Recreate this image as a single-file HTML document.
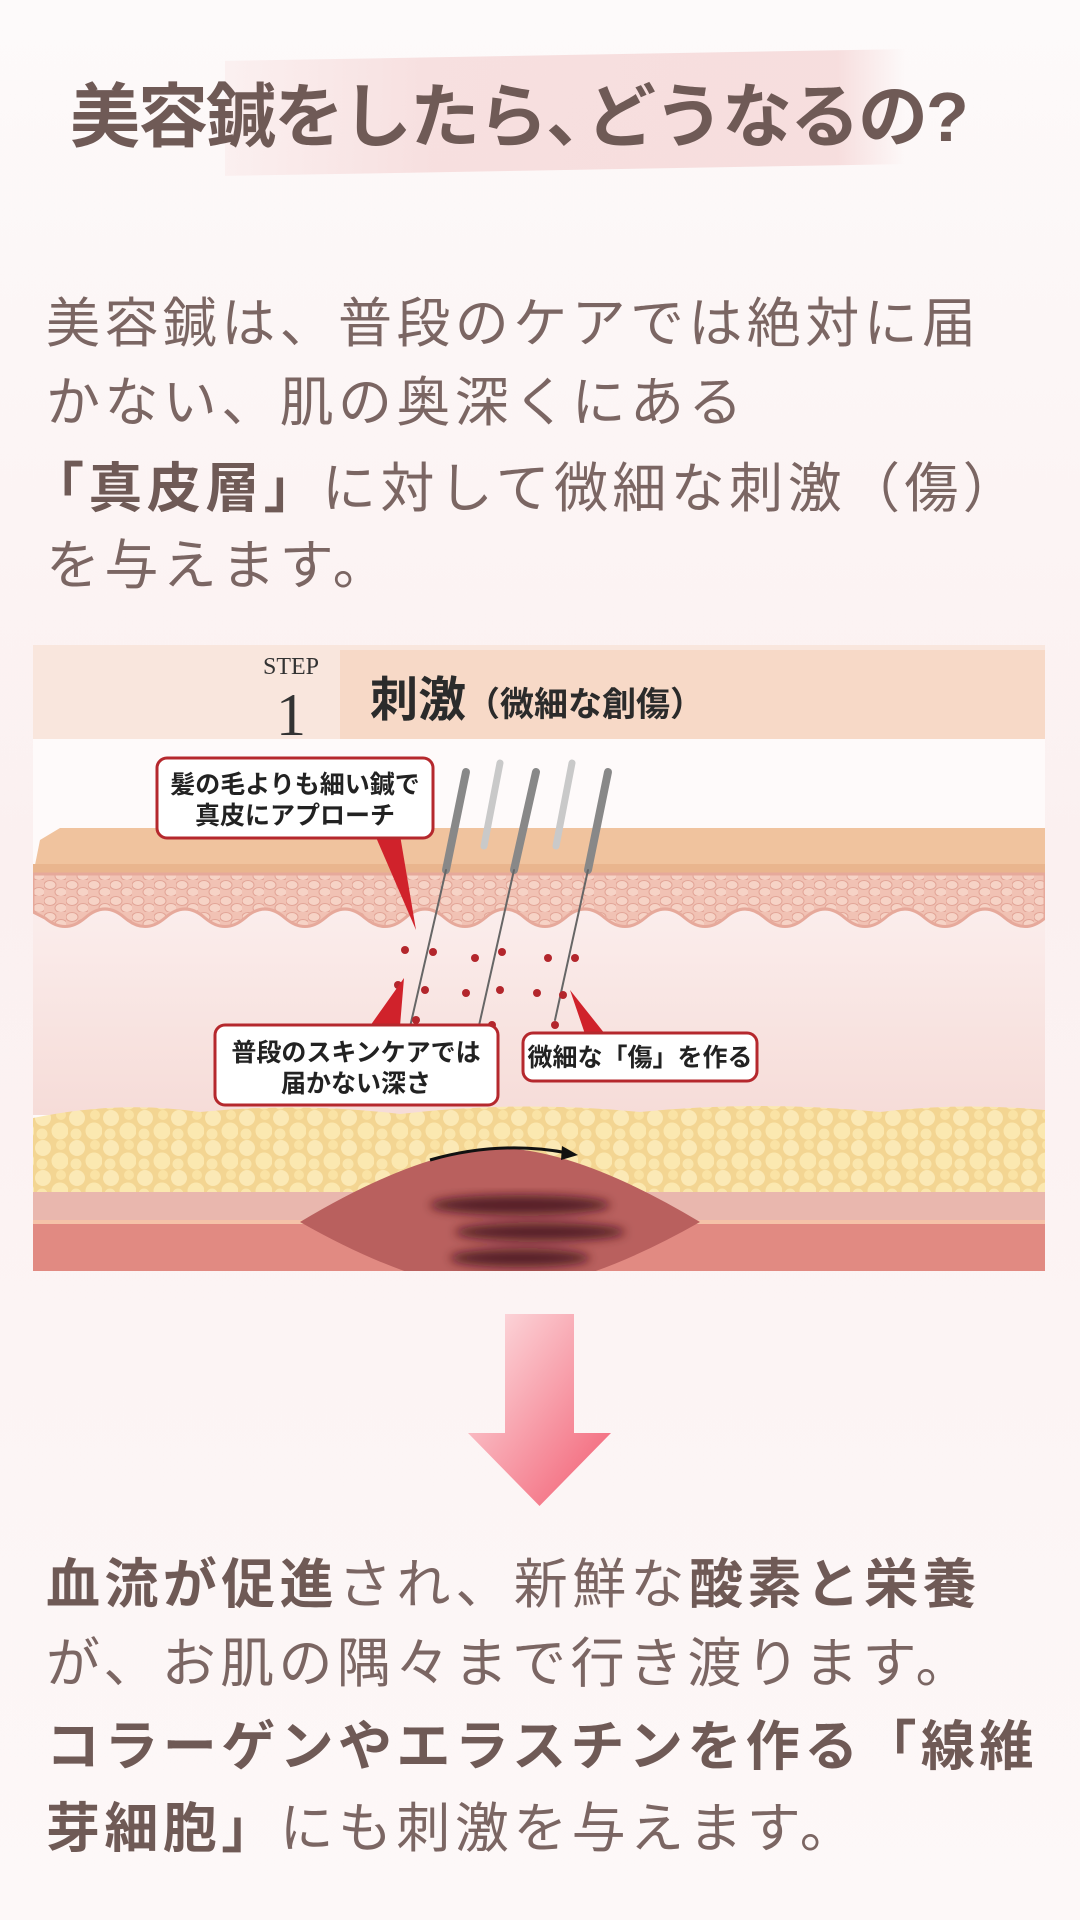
<!DOCTYPE html>
<html><head><meta charset="utf-8">
<style>
html,body{margin:0;padding:0}
body{width:1080px;height:1920px;position:relative;overflow:hidden;background:linear-gradient(#fdfafa,#fbf0f0 45%,#fcf4f4 70%,#fdf8f8);font-family:"Liberation Sans","Noto Sans CJK JP",sans-serif;color:#7b6663}
.t{position:absolute;left:0;width:1080px;white-space:nowrap}
.title{top:72px;left:70px;font-size:70px;font-weight:bold;color:#6f5a56;line-height:90px;letter-spacing:-2px}
.brush{position:absolute;left:225px;top:55px;width:680px;height:115px;background:linear-gradient(90deg,rgba(247,220,220,0.3),rgba(245,215,215,0.75) 30%,rgba(245,215,215,0.8) 90%,rgba(245,215,215,0));transform:skewY(-1deg)}
.p{left:46px;font-size:54px;letter-spacing:4.4px;line-height:80px}
b{color:#6f5a56}
</style></head><body>
<div class="brush"></div>
<div class="t title">美容鍼をしたら<span style="letter-spacing:-30px">、</span>どうなるの?</div>

<div class="t p" style="top:284px">美容鍼は、普段のケアでは絶対に届</div>
<div class="t p" style="top:363px">かない、肌の奥深くにある</div>
<div class="t p" style="top:449px;left:30px"><b>「真皮層」</b>に対して微細な刺激（傷）</div>
<div class="t p" style="top:526px">を与えます。</div>

<svg style="position:absolute;left:33px;top:645px" width="1012" height="626" viewBox="33 645 1012 626">
<defs>
<pattern id="cells" width="22" height="16" patternUnits="userSpaceOnUse">
<rect width="22" height="16" fill="#f1c2b4"/>
<ellipse cx="6" cy="5" rx="6" ry="4.5" fill="#f6d3c6" stroke="#e2a597" stroke-width="1"/>
<ellipse cx="17" cy="12" rx="6" ry="4.5" fill="#f6d3c6" stroke="#e2a597" stroke-width="1"/>
</pattern>
<pattern id="fat" width="34" height="30" patternUnits="userSpaceOnUse">
<rect width="34" height="30" fill="#f3d592"/>
<circle cx="9" cy="8" r="8" fill="#fbe9b6"/>
<circle cx="26" cy="21" r="8.5" fill="#fbe8b0"/>
<circle cx="27" cy="5" r="5" fill="#fae3a5"/>
<circle cx="8" cy="24" r="5.5" fill="#fae6ad"/>
</pattern>
<linearGradient id="derm" x1="0" y1="0" x2="0" y2="1"><stop offset="0" stop-color="#fbeeed"/><stop offset="1" stop-color="#f6dcd8"/></linearGradient>
<filter id="bl"><feGaussianBlur stdDeviation="5"/></filter>
</defs>
<rect x="33" y="645" width="1012" height="626" fill="#fefafa"/>
<rect x="33" y="645" width="1012" height="94" fill="#f9e6dd"/>
<rect x="340" y="650" width="705" height="89" fill="#f7d9c7"/>
<text x="291" y="674" font-family="Liberation Serif,serif" font-size="24" fill="#333" text-anchor="middle">STEP</text>
<text x="291" y="735" font-family="Liberation Serif,serif" font-size="60" fill="#333" text-anchor="middle">1</text>
<text x="370" y="716" font-size="48" font-weight="bold" fill="#2b2b2b" font-family="Noto Sans CJK JP,sans-serif">刺激<tspan font-size="34" font-weight="bold">（微細な創傷）</tspan></text>
<path d="M40 840 L60 828 H1045 V875 H33 Z" fill="#f0c39e"/>
<rect x="33" y="864" width="1012" height="10" fill="#e9b58e"/>
<rect x="33" y="900" width="1012" height="215" fill="url(#derm)"/>
<path d="M33 874 H1045 V918 Q1025 935 1005 918 Q985 900 965 918 Q945 935 925 918 Q905 900 885 918 Q865 935 845 918 Q825 900 805 918 Q785 935 765 918 Q745 900 725 918 Q705 935 685 918 Q665 900 645 918 Q625 935 605 918 Q585 900 565 918 Q545 935 525 918 Q505 900 485 918 Q465 935 445 918 Q425 900 405 918 Q385 935 365 918 Q345 900 325 918 Q305 935 285 918 Q265 900 245 918 Q225 935 205 918 Q185 900 165 918 Q145 935 125 918 Q105 900 85 918 Q65 935 45 918 L33 912 Z" fill="url(#cells)" stroke="#e6a99b" stroke-width="3"/>
<path d="M33 1118 Q120 1100 200 1112 Q300 1102 400 1114 Q520 1100 640 1112 Q760 1100 880 1112 Q960 1102 1045 1110 V1195 H33 Z" fill="url(#fat)"/>
<rect x="33" y="1192" width="1012" height="30" fill="#e9b7ae"/>
<rect x="33" y="1222" width="1012" height="49" fill="#e18a82"/>
<rect x="33" y="1220" width="1012" height="4" fill="#f5c2a8"/>
<path d="M300 1222 Q420 1150 500 1148 Q580 1150 700 1222 Q580 1290 500 1290 Q420 1290 300 1222 Z" fill="#b9605e"/>
<g filter="url(#bl)">
<ellipse cx="520" cy="1205" rx="90" ry="10" fill="#3d1215" opacity="0.8"/>
<ellipse cx="540" cy="1232" rx="85" ry="9" fill="#3d1215" opacity="0.8"/>
<ellipse cx="520" cy="1258" rx="70" ry="9" fill="#3d1215" opacity="0.8"/>
</g>
<path d="M430 1160 Q500 1140 568 1153" stroke="#111" stroke-width="3" fill="none"/>
<path d="M562 1146 L578 1155 L561 1160 Z" fill="#111"/>
<g stroke-linecap="round">
<line x1="500" y1="763" x2="484" y2="846" stroke="#c9c9c9" stroke-width="7"/>
<line x1="572" y1="763" x2="556" y2="846" stroke="#c9c9c9" stroke-width="7"/>
<line x1="466" y1="772" x2="446" y2="870" stroke="#888" stroke-width="8"/>
<line x1="446" y1="870" x2="407" y2="1040" stroke="#666" stroke-width="2"/>
<line x1="536" y1="772" x2="514" y2="870" stroke="#888" stroke-width="8"/>
<line x1="514" y1="870" x2="478" y2="1030" stroke="#666" stroke-width="2"/>
<line x1="608" y1="772" x2="588" y2="870" stroke="#888" stroke-width="8"/>
<line x1="588" y1="870" x2="555" y2="1020" stroke="#666" stroke-width="2"/>
</g>
<g fill="#b3262c">
<circle cx="405" cy="950" r="4"/><circle cx="433" cy="952" r="4"/><circle cx="398" cy="985" r="4"/><circle cx="425" cy="990" r="4"/><circle cx="416" cy="1020" r="4"/>
<circle cx="475" cy="958" r="4"/><circle cx="502" cy="952" r="4"/><circle cx="466" cy="993" r="4"/><circle cx="500" cy="990" r="4"/><circle cx="492" cy="1025" r="4"/><circle cx="468" cy="1030" r="4"/>
<circle cx="548" cy="958" r="4"/><circle cx="575" cy="958" r="4"/><circle cx="537" cy="993" r="4"/><circle cx="563" cy="995" r="4"/><circle cx="555" cy="1025" r="4"/><circle cx="536" cy="1036" r="4"/>
</g>
<path d="M375 835 L416 930 L400 835 Z" fill="#d0222b"/>
<rect x="157" y="758" width="276" height="80" rx="10" fill="#fff" stroke="#b5282d" stroke-width="3"/>
<text x="295" y="793" font-size="25" font-weight="bold" fill="#222" text-anchor="middle">髪の毛よりも細い鍼で</text>
<text x="295" y="824" font-size="25" font-weight="bold" fill="#222" text-anchor="middle">真皮にアプローチ</text>
<path d="M370 1026 L404 978 L400 1026 Z" fill="#d0222b"/>
<rect x="215" y="1025" width="283" height="80" rx="10" fill="#fff" stroke="#b5282d" stroke-width="3"/>
<text x="356" y="1061" font-size="25" font-weight="bold" fill="#222" text-anchor="middle">普段のスキンケアでは</text>
<text x="356" y="1092" font-size="25" font-weight="bold" fill="#222" text-anchor="middle">届かない深さ</text>
<path d="M570 990 L605 1034 L585 1034 Z" fill="#d0222b"/>
<rect x="523" y="1033" width="234" height="48" rx="10" fill="#fff" stroke="#b5282d" stroke-width="3"/>
<text x="640" y="1066" font-size="25" font-weight="bold" fill="#222" text-anchor="middle">微細な「傷」を作る</text>
</svg>

<svg style="position:absolute;left:460px;top:1310px" width="160" height="200">
<defs><linearGradient id="ar" x1="0" y1="0" x2="1" y2="1"><stop offset="0" stop-color="#fde4e6"/><stop offset="1" stop-color="#f25b70"/></linearGradient></defs>
<path d="M45 4 H114 V123 H151 L79.5 196 L8 123 H45 Z" fill="url(#ar)"/>
</svg>

<div class="t p" style="top:1545px"><b>血流が促進</b>され、新鮮な<b>酸素と栄養</b></div>
<div class="t p" style="top:1624px">が、お肌の隅々まで行き渡ります。</div>
<div class="t p" style="top:1707px"><b>コラーゲンやエラスチンを作る「線維</b></div>
<div class="t p" style="top:1789px"><b>芽細胞」</b>にも刺激を与えます。</div>
</body></html>
